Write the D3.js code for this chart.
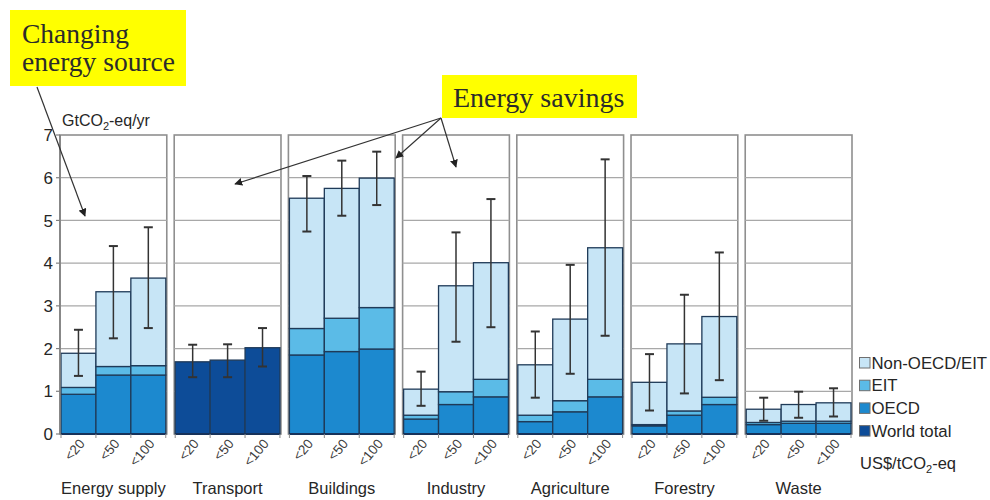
<!DOCTYPE html>
<html>
<head>
<meta charset="utf-8">
<script src="https://cdn.jsdelivr.net/npm/d3@7"></script>
<style>
  html, body { margin: 0; padding: 0; background: #fff; }
  svg { display: block; }
</style>
</head>
<body>
<svg id="chart" width="990" height="500"></svg>
<script>
// Economic mitigation potential by sector, at three carbon price levels (GtCO2-eq/yr)
const sectors = ["Energy supply", "Transport", "Buildings", "Industry", "Agriculture", "Forestry", "Waste"];
const priceLevels = ["<20", "<50", "<100"];

// Stacked components per sector, one value per price level
const oecd        = [[0.93, 1.38, 1.38], [0, 0, 0], [1.85, 1.93, 1.99], [0.35, 0.69, 0.87], [0.29, 0.52, 0.87], [0.19, 0.44, 0.69], [0.22, 0.25, 0.25]];
const eit         = [[0.16, 0.20, 0.22], [0, 0, 0], [0.62, 0.78, 0.97], [0.09, 0.30, 0.41], [0.15, 0.26, 0.41], [0.03, 0.10, 0.17], [0.05, 0.05, 0.05]];
const nonOecdEit  = [[0.80, 1.75, 2.05], [0, 0, 0], [3.05, 3.04, 3.03], [0.61, 2.48, 2.73], [1.18, 1.91, 3.08], [0.99, 1.57, 1.89], [0.31, 0.39, 0.43]];
const worldTotal  = [[0, 0, 0], [1.69, 1.73, 2.02], [0, 0, 0], [0, 0, 0], [0, 0, 0], [0, 0, 0], [0, 0, 0]];

// Uncertainty ranges
const rangeLow  = [[1.36, 2.24, 2.48], [1.33, 1.33, 1.58], [4.74, 5.11, 5.36], [0.66, 2.16, 2.50], [0.85, 1.41, 2.30], [0.55, 0.95, 1.26], [0.31, 0.38, 0.41]];
const rangeHigh = [[2.44, 4.40, 4.84], [2.09, 2.10, 2.48], [6.04, 6.40, 6.61], [1.46, 4.72, 5.50], [2.40, 3.96, 6.43], [1.87, 3.26, 4.25], [0.85, 0.99, 1.07]];

const yTicks = [0, 1, 2, 3, 4, 5, 6, 7];
const legendLabels = ["Non-OECD/EIT", "EIT", "OECD", "World total"];

const layers = [
  { key: "World total",  data: worldTotal, color: "#0d4c98" },
  { key: "OECD",         data: oecd,       color: "#1c89cf" },
  { key: "EIT",          data: eit,        color: "#5bbbe7" },
  { key: "Non-OECD/EIT", data: nonOecdEit, color: "#c7e5f6" }
];
const colorOf = Object.fromEntries(layers.map(l => [l.key, l.color]));

const sans = '"Liberation Sans", Arial, sans-serif';
const serif = '"Liberation Serif", "Times New Roman", serif';
const ink = "#262626";

const svg = d3.select("#chart").style("font-family", sans);

const x = d3.scaleBand().domain(sectors).range([60, 852]).paddingInner(0.065).paddingOuter(0);
const xi = d3.scaleBand().domain(priceLevels).range([1, x.bandwidth() - 1]).padding(0);
const y = d3.scaleLinear().domain([0, 7]).range([434, 135]);

const gridColor = "#a8a8a8";
const frameColor = "#8f8f8f";
const outline = "#1f3a58";

// Panels: frame + gridlines
const panels = svg.append("g").selectAll("g").data(sectors).join("g")
  .attr("transform", d => `translate(${x(d)},0)`);

panels.append("rect")
  .attr("x", 0).attr("y", y(7))
  .attr("width", x.bandwidth()).attr("height", y(0) - y(7))
  .attr("fill", "#fff").attr("stroke", frameColor).attr("stroke-width", 1.6);

panels.selectAll("line.grid").data(yTicks.filter(t => t > 0 && t < 7)).join("line")
  .attr("class", "grid")
  .attr("x1", 0).attr("x2", x.bandwidth())
  .attr("y1", d => y(d)).attr("y2", d => y(d))
  .attr("stroke", gridColor).attr("stroke-width", 1.2);

// Stacked bars
panels.each(function (sector, si) {
  const g = d3.select(this);
  priceLevels.forEach((p, pi) => {
    let base = 0;
    layers.forEach(layer => {
      const v = layer.data[si][pi];
      if (v <= 0) return;
      g.append("rect")
        .attr("x", xi(p)).attr("width", xi.bandwidth())
        .attr("y", y(base + v)).attr("height", y(base) - y(base + v))
        .attr("fill", layer.color)
        .attr("stroke", outline).attr("stroke-width", 1.3);
      base += v;
    });
  });
  // bottom baseline
  g.append("line")
    .attr("x1", 1).attr("x2", x.bandwidth() - 1)
    .attr("y1", y(0)).attr("y2", y(0))
    .attr("stroke", "#17325a").attr("stroke-width", 2.2);
  // small ticks below bar edges
  const edges = priceLevels.map(p => xi(p)).concat([xi.range()[1]]);
  g.selectAll("line.xt").data(edges).join("line")
    .attr("class", "xt")
    .attr("x1", d => d).attr("x2", d => d)
    .attr("y1", y(0)).attr("y2", y(0) + 4)
    .attr("stroke", "#8a8a8a").attr("stroke-width", 1);
  // uncertainty bars
  priceLevels.forEach((p, pi) => {
    const cx = xi(p) + xi.bandwidth() / 2;
    const lo = rangeLow[si][pi], hi = rangeHigh[si][pi];
    g.append("line").attr("x1", cx).attr("x2", cx).attr("y1", y(lo)).attr("y2", y(hi))
      .attr("stroke", "#333").attr("stroke-width", 1.5);
    [lo, hi].forEach(v => g.append("line")
      .attr("x1", cx - 4.5).attr("x2", cx + 4.5).attr("y1", y(v)).attr("y2", y(v))
      .attr("stroke", "#333").attr("stroke-width", 2));
  });
  // price level labels
  priceLevels.forEach(p => {
    const cx = xi(p) + xi.bandwidth() / 2;
    g.append("text")
      .attr("transform", `translate(${cx + 7},${y(0) + 10}) rotate(-50)`)
      .attr("text-anchor", "end")
      .attr("font-size", 13.5).attr("fill", "#404040")
      .text(p);
  });
  // sector label
  g.append("text")
    .attr("x", x.bandwidth() / 2).attr("y", 494)
    .attr("text-anchor", "middle")
    .attr("font-size", 16.5).attr("fill", ink)
    .text(sector);
});

// Y axis
const yAxis = svg.append("g");
yAxis.append("line").attr("x1", 60).attr("x2", 60).attr("y1", y(0)).attr("y2", y(7))
  .attr("stroke", "#808080").attr("stroke-width", 1.6);
yAxis.selectAll("line.tk").data(yTicks).join("line").attr("class", "tk")
  .attr("x1", 56).attr("x2", 60).attr("y1", d => y(d)).attr("y2", d => y(d))
  .attr("stroke", "#808080").attr("stroke-width", 1.2);
yAxis.selectAll("text").data(yTicks).join("text")
  .attr("x", 53).attr("y", d => y(d)).attr("dy", "0.36em")
  .attr("text-anchor", "end").attr("font-size", 17).attr("fill", ink)
  .text(d => d);

const unit = svg.append("text").attr("x", 62).attr("y", 126).attr("font-size", 16).attr("fill", ink);
unit.append("tspan").text("GtCO");
unit.append("tspan").attr("font-size", 11).attr("dy", 4).text("2");
unit.append("tspan").attr("dy", -4).text("-eq/yr");

// Legend
const legend = svg.append("g").attr("transform", "translate(859,357)");
legend.selectAll("g").data(legendLabels).join("g")
  .attr("transform", (d, i) => `translate(0,${i * 22.7})`)
  .each(function (d) {
    const g = d3.select(this);
    g.append("rect").attr("x", 0.5).attr("y", 0.5).attr("width", 10.5).attr("height", 10.5)
      .attr("fill", colorOf[d]).attr("stroke", "#6f6f6f").attr("stroke-width", 1);
    g.append("text").attr("x", 12.5).attr("y", 11.5).attr("font-size", 16.8).attr("fill", ink).text(d);
  });

const priceUnit = svg.append("text").attr("x", 860).attr("y", 469).attr("font-size", 16.5).attr("fill", ink);
priceUnit.append("tspan").text("US$/tCO");
priceUnit.append("tspan").attr("font-size", 11).attr("dy", 4).text("2");
priceUnit.append("tspan").attr("dy", -4).text("-eq");

// Callouts with arrows
const defs = svg.append("defs");
defs.append("marker").attr("id", "arrowhead")
  .attr("viewBox", "0 0 10 10").attr("refX", 9).attr("refY", 5)
  .attr("markerWidth", 8).attr("markerHeight", 8).attr("markerUnits", "userSpaceOnUse")
  .attr("orient", "auto")
  .append("path").attr("d", "M0,0 L10,5 L0,10 z").attr("fill", "#222");

svg.append("rect").attr("x", 10).attr("y", 10).attr("width", 176).attr("height", 76).attr("fill", "#ffff00");
svg.append("text").attr("x", 22).attr("y", 43).style("font-family", serif).attr("font-size", 27.5).attr("fill", "#2b2b2b").text("Changing");
svg.append("text").attr("x", 22).attr("y", 71).style("font-family", serif).attr("font-size", 27.5).attr("fill", "#2b2b2b").text("energy source");

svg.append("rect").attr("x", 442).attr("y", 75).attr("width", 195).attr("height", 43).attr("fill", "#ffff00");
svg.append("text").attr("x", 453).attr("y", 107).style("font-family", serif).attr("font-size", 28).attr("fill", "#2b2b2b").text("Energy savings");

const arrows = [
  [[37, 87], [85, 216]],
  [[441, 118], [235, 184]],
  [[441, 118], [396, 158]],
  [[441, 118], [456, 167]]
];
svg.append("g").selectAll("line").data(arrows).join("line")
  .attr("x1", d => d[0][0]).attr("y1", d => d[0][1])
  .attr("x2", d => d[1][0]).attr("y2", d => d[1][1])
  .attr("stroke", "#333").attr("stroke-width", 1.2)
  .attr("marker-end", "url(#arrowhead)");
</script>
</body>
</html>
